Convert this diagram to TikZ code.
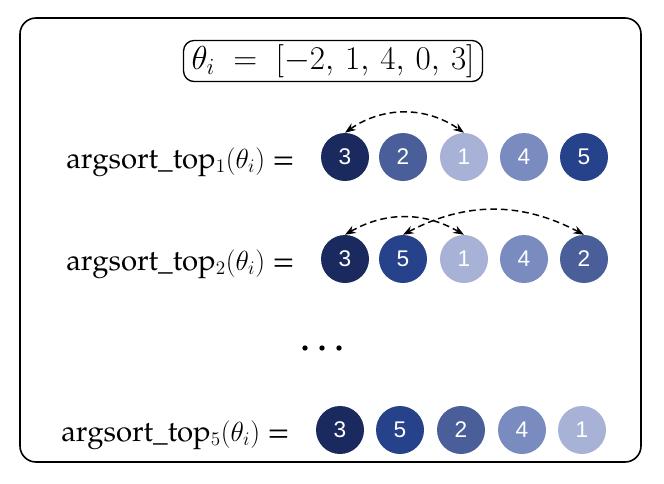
\documentclass[tikz,border=0pt]{standalone}
\usepackage{fontspec}
\setmainfont{TeX Gyre Pagella}
\newfontfamily\digitfont{Liberation Sans}
\usetikzlibrary{arrows.meta}
\definecolor{cA}{HTML}{1B2A5E}
\definecolor{cB}{HTML}{4A5E9A}
\definecolor{cC}{HTML}{A7B2D6}
\definecolor{cD}{HTML}{7A8BBF}
\definecolor{cE}{HTML}{26428B}
\tikzset{
  ball/.style={circle,minimum size=36pt,inner sep=0pt,text=white,font=\digitfont\fontsize{17}{17}\selectfont},
  lbl/.style={anchor=east,font=\fontsize{22}{26}\selectfont,inner sep=0pt},
  swap/.style={line width=1.1pt,dash pattern=on 5pt off 3pt,{Stealth[length=8pt]}-{Stealth[length=8pt]}},
  dotc/.style={circle,fill=black,inner sep=0pt,minimum size=4pt}
}
\begin{document}
\begin{tikzpicture}[x=0.75pt,y=-0.75pt]
\useasboundingbox (0,0) rectangle (664,483);
\draw[line width=1.2pt,rounded corners=12pt] (20,18) rectangle (641,462);
\node[draw,line width=1pt,rounded corners=8pt,inner xsep=6pt,inner ysep=3pt,font=\fontsize{24}{28}\selectfont] (title) at (333,61) {$\theta_i\;=\;[-2,\,1,\,4,\,0,\,3]$};
% row 1
\node[lbl] (l1) at (295,162) {argsort\_top$_1(\theta_i)$ =};
\foreach \n/\x/\c/\t in {a/345/cA/3,b/403/cB/2,c/464/cC/1,d/524/cD/4,e/584/cE/5}
  \node[ball,fill=\c] (r1\n) at (\x,157) {\t};
\draw[swap] (r1a.north) to[bend left=35] (r1c.north);
% row 2
\node[lbl] (l2) at (295,264) {argsort\_top$_2(\theta_i)$ =};
\foreach \n/\x/\c/\t in {a/345/cA/3,b/403/cE/5,c/464/cC/1,d/524/cD/4,e/584/cB/2}
  \node[ball,fill=\c] (r2\n) at (\x,259) {\t};
\draw[swap] (r2a.north) to[bend left=30] (r2c.north);
\draw[swap] (r2b.north) to[bend left=28] (r2e.north);
% dots
\node[dotc] (d1) at (305,348) {};
\node[dotc] (d2) at (322,348) {};
\node[dotc] (d3) at (339,348) {};
% row 3
\node[lbl] (l3) at (290,435) {argsort\_top$_5(\theta_i)$ =};
\foreach \n/\x/\c/\t in {a/340/cA/3,b/400/cE/5,c/461/cB/2,d/522/cD/4,e/582/cC/1}
  \node[ball,fill=\c] (r3\n) at (\x,430) {\t};
\end{tikzpicture}
\end{document}
